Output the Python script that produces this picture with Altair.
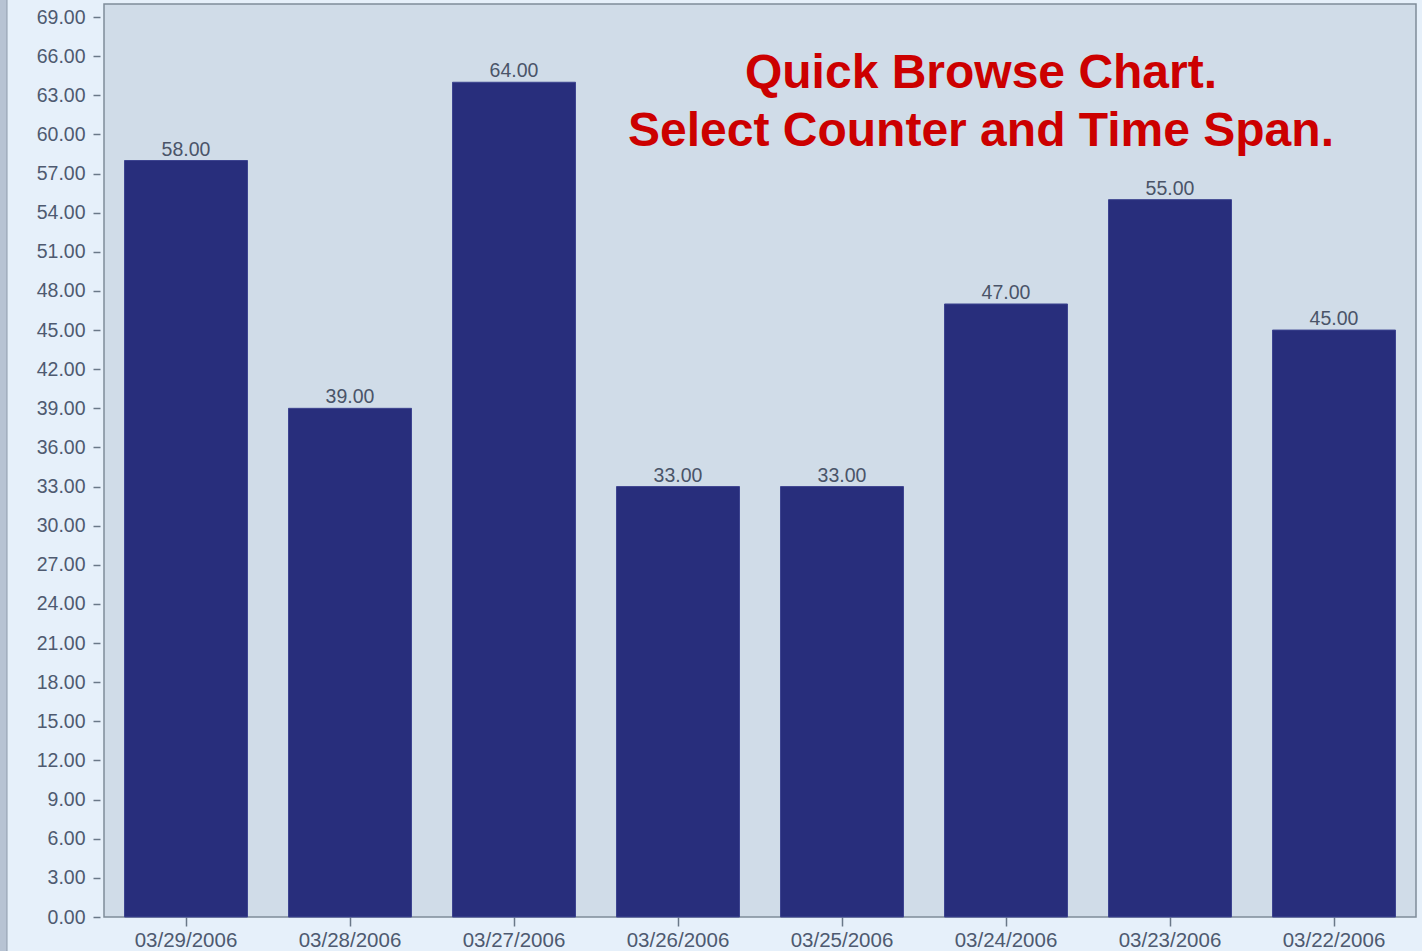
import altair as alt
import pandas as pd

dates = ["03/29/2006", "03/28/2006", "03/27/2006", "03/26/2006",
         "03/25/2006", "03/24/2006", "03/23/2006", "03/22/2006"]
values = [58, 39, 64, 33, 33, 47, 55, 45]
y_ticks = [i * 3 for i in range(24)]  # 0 .. 69
title_lines = ["Quick Browse Chart.", "Select Counter and Time Span."]

df = pd.DataFrame({"date": dates, "value": values})
df["label"] = df["value"].map(lambda v: f"{v:.2f}")

FONT = "Liberation Sans"
AXIS_TEXT = "#4e5a70"

x_enc = alt.X(
    "date:N", sort=None, title=None,
    scale=alt.Scale(paddingInner=0.25, paddingOuter=0.125),
    axis=alt.Axis(labelAngle=0, labelFont=FONT, labelFontSize=20.5,
                  labelColor=AXIS_TEXT, tickColor="#6a7888", tickSize=9,
                  tickWidth=1.5, labelPadding=4, domain=False,
                  labelOverlap=False),
)
y_enc = alt.Y(
    "value:Q", title=None,
    scale=alt.Scale(domain=[0, 70], nice=False),
    axis=alt.Axis(values=y_ticks, format=".2f", labelFont=FONT,
                  labelFontSize=19.5, labelColor=AXIS_TEXT,
                  tickColor="#6a7888", tickSize=7, tickWidth=1.5,
                  labelPadding=8, offset=4, grid=False, domain=False,
                  labelOverlap=False, labelBound=False),
)

bars = alt.Chart(df).mark_bar(
    color="#282e7c", stroke="#3d4490", strokeWidth=1
).encode(x=x_enc, y=y_enc)

labels = alt.Chart(df).mark_text(
    font=FONT, fontSize=19.5, color="#4a5468", baseline="alphabetic", dy=-5
).encode(x=x_enc, y=y_enc, text="label:N")

one = pd.DataFrame({"k": [0]})

heading = alt.Chart(one).mark_text(
    font=FONT, fontSize=48, fontWeight="bold", color="#cc0000",
    align="center", baseline="alphabetic", lineHeight=58,
).encode(x=alt.value(877), y=alt.value(84), text=alt.value(title_lines))

strip = alt.Chart(one).mark_rect(color="#b7c3d3", clip=False).encode(
    x=alt.value(-104), x2=alt.value(-97), y=alt.value(-4), y2=alt.value(947)
)
strip_edge = alt.Chart(one).mark_rule(color="#8e9bab", strokeWidth=1, clip=False).encode(
    x=alt.value(-97), y=alt.value(-4), y2=alt.value(947)
)

chart = alt.layer(strip, strip_edge, bars, labels, heading).properties(
    width=1312, height=913,
    autosize=alt.AutoSizeParams(type="none"),
    padding={"left": 104, "top": 4, "right": 6, "bottom": 34},
    background="#e6f0fa",
).configure_view(
    fill="#d0dce8", stroke="#7f8c99", strokeWidth=1.5
)

chart.save("out.html", embed_options={"renderer": "svg", "actions": False})
